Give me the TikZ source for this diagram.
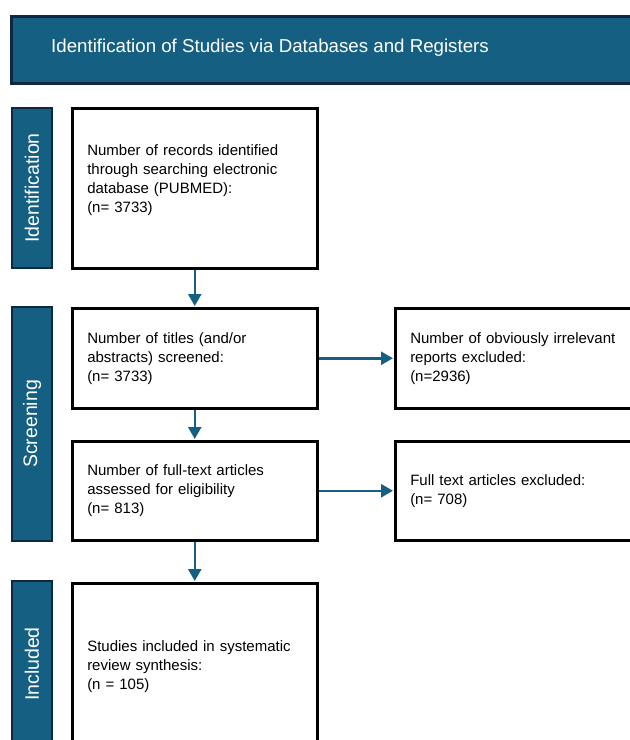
\documentclass[tikz,border=0pt]{standalone}
\usepackage{fontspec}
\setmainfont{Liberation Sans}
\usetikzlibrary{arrows.meta}
\definecolor{acc}{HTML}{156082}
\definecolor{dk}{HTML}{0E2841}
\begin{document}
\begin{tikzpicture}[x=1pt,y=-1pt,
  box/.style={draw=black, line width=2.5pt, fill=white, rectangle, inner xsep=15pt, inner ysep=0pt,
    align=left, font=\fontsize{15}{19}\selectfont, anchor=north west},
  side/.style={draw=dk, fill=acc, line width=2.5pt, rotate=90, text=white,
    font=\fontsize{19.5}{23}\selectfont, minimum height=40pt, inner sep=0pt},
  arr/.style={draw=acc, line width=2.5pt, -{Triangle[length=12pt,width=13pt]}, shorten >=1pt}]
\useasboundingbox (0,0) rectangle (630,740);
\clip (0,0) rectangle (630,740);
\fill[white] (0,0) rectangle (630,740);
% banner
\node[draw=dk, fill=acc, line width=2.5pt, minimum width=640pt, minimum height=67pt, anchor=north west, inner sep=0pt] (banner) at (10,15) {};
\node[text=white, font=\fontsize{18.7}{22}\selectfont] (title) at (270,48) {Identification of Studies via Databases and Registers};
% sidebars
\node[side, minimum width=160pt] (sid) at (32,188) {Identification};
\node[side, minimum width=234pt] (sscr) at (32,424) {Screening};
\node[side, minimum width=166pt] (sinc) at (32,664) {Included};
% boxes
\node[box, text width=215pt, minimum height=160pt] (b1) at (71,107)
  {Number of records identified\\through searching electronic\\database (PUBMED):\\(n= 3733)\\\mbox{}};
\node[box, text width=215pt, minimum height=100pt] (b2) at (71,307)
  {Number of titles (and/or\\abstracts) screened:\\(n= 3733)};
\node[box, text width=215pt, minimum height=99pt] (b3) at (71,440)
  {Number of full-text articles\\assessed for eligibility\\(n= 813)};
\node[box, text width=216pt, minimum height=100pt] (b4) at (394,307)
  {Number of obviously irrelevant\\reports excluded:\\(n=2936)};
\node[box, text width=216pt, minimum height=99pt] (b5) at (394,440)
  {Full text articles excluded:\\(n= 708)};
\node[box, text width=215pt, minimum height=166pt] (b6) at (71,582)
  {Studies included in systematic\\review synthesis:\\(n = 105)};
% arrows
\draw[arr] (b1.south) -- (b2.north);
\draw[arr] (b2.south) -- (b3.north);
\draw[arr] (b3.south) -- (b6.north);
\draw[arr] (b2.east) -- (b4.west);
\draw[arr] (b3.east) -- (b5.west);
\end{tikzpicture}
\end{document}
